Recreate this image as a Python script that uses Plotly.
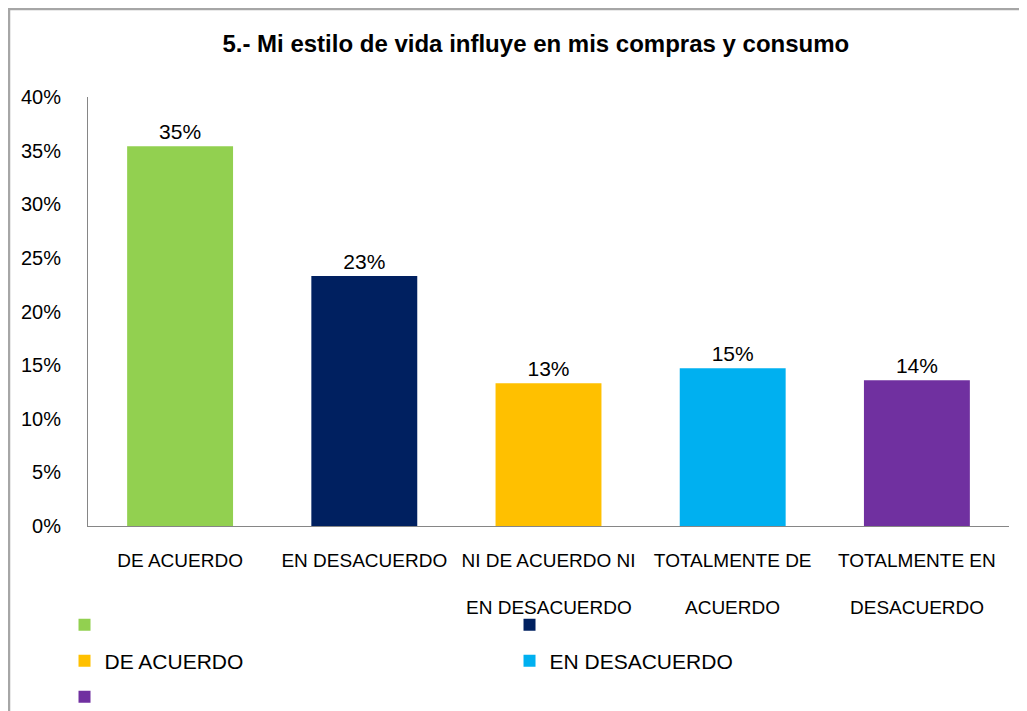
import plotly.graph_objects as go

categories = ["DE ACUERDO", "EN DESACUERDO", "NI DE ACUERDO NI EN DESACUERDO",
              "TOTALMENTE DE ACUERDO", "TOTALMENTE EN DESACUERDO"]
label_line1 = ["DE ACUERDO", "EN DESACUERDO", "NI DE ACUERDO NI", "TOTALMENTE DE", "TOTALMENTE EN"]
label_line2 = ["", "", "EN DESACUERDO", "ACUERDO", "DESACUERDO"]
values = [0.354, 0.233, 0.133, 0.147, 0.136]
legend_names = ["", "", "DE ACUERDO", "EN DESACUERDO", ""]
colors = ["#92D050", "#002060", "#FFC000", "#00B0F0", "#7030A0"]
legend_rows = ["legend", "legend", "legend2", "legend2", "legend3"]
y_ticks = [0, 0.05, 0.10, 0.15, 0.20, 0.25, 0.30, 0.35, 0.40]

fig = go.Figure()
for cat, val, name, col, lg in zip(categories, values, legend_names, colors, legend_rows):
    fig.add_trace(go.Bar(
        x=[cat], y=[val], name=name, legend=lg,
        marker=dict(color=col, line=dict(width=0)),
        width=0.575, texttemplate="%{y:.0%}", textposition="outside",
        textfont=dict(family="Liberation Sans", size=21, color="black"),
        cliponaxis=False, hoverinfo="x+y",
    ))

for cat, l2 in zip(categories, label_line2):
    if l2:
        fig.add_annotation(x=cat, xref="x", y=-0.191, yref="paper", text=l2,
                           showarrow=False, yanchor="middle", xanchor="center",
                           font=dict(family="Liberation Sans", size=19, color="black"))

# outer chart border (top and left visible)
fig.add_shape(type="rect", xref="paper", yref="paper", x0=-79/921, x1=1.2, y0=-0.6, y1=1 + 88/429,
              line=dict(color="#A6A6A6", width=2.5), fillcolor="rgba(0,0,0,0)", layer="below")

legend_common = dict(orientation="h", xanchor="left", yanchor="middle",
                     entrywidth=400, entrywidthmode="pixels", traceorder="normal",
                     font=dict(family="Liberation Sans", size=21, color="black"),
                     bgcolor="rgba(0,0,0,0)")

fig.update_layout(
    width=1019, height=703,
    paper_bgcolor="white", plot_bgcolor="white",
    margin=dict(l=80, r=18, t=89, b=185, autoexpand=False),
    barmode="overlay",
    title=dict(text="<b>5.- Mi estilo de vida influye en mis compras y consumo</b>",
               x=0.518, xanchor="center", y=0.950, yanchor="middle",
               font=dict(family="Liberation Sans", size=24, color="black")),
    xaxis=dict(tickmode="array", tickvals=categories, ticktext=label_line1, tickangle=0,
               showline=True, linecolor="#868686", linewidth=1, ticks="",
               ticklabelstandoff=17, showgrid=False, zeroline=False,
               tickfont=dict(family="Liberation Sans", size=19, color="black")),
    yaxis=dict(range=[0, 0.4], tickvals=y_ticks, tickformat=".0%",
               showline=True, linecolor="#868686", linewidth=1, ticks="",
               ticklabelstandoff=22, showgrid=False, zeroline=False,
               tickfont=dict(family="Liberation Sans", size=20, color="black")),
    showlegend=True,
    legend=dict(x=-0.0255, y=-0.2308, **legend_common),
    legend2=dict(x=-0.0255, y=-0.3147, **legend_common),
    legend3=dict(x=-0.0255, y=-0.3986, **legend_common),
)

fig.write_html("out.html")
